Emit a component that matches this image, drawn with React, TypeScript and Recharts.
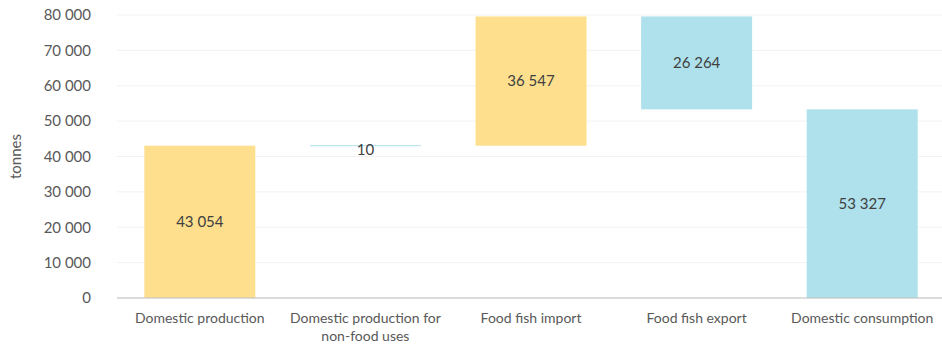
import { Bar, BarChart, CartesianGrid, Cell, LabelList, XAxis, YAxis } from "recharts";

const categories = [
  "Domestic production",
  "Domestic production for\nnon-food uses",
  "Food fish import",
  "Food fish export",
  "Domestic consumption",
];
const amounts = [43054, 10, 36547, 26264, 53327];
const bases = [0, 43044, 43044, 53327, 0];
const kinds = ["up", "down", "up", "down", "total"];
const yTicks = [0, 10000, 20000, 30000, 40000, 50000, 60000, 70000, 80000];

const YELLOW = "#FEDF8E";
const BLUE = "#AEE1EB";
const FONT = "Lato, 'Open Sans', sans-serif";

const fmt = (v: number) => String(v).replace(/\B(?=(\d{3})+(?!\d))/g, " ");

const data = categories.map((name, i) => ({
  name,
  base: bases[i],
  amount: amounts[i],
  color: kinds[i] === "up" ? YELLOW : BLUE,
}));

function BarShape(props: any) {
  const { x, y, width, height, fill } = props;
  if (height < 1) {
    return <rect x={x} y={y - 0.5} width={width} height={1} fill={fill} />;
  }
  return <rect x={x} y={y} width={width} height={height} fill={fill} />;
}

function CatTick(props: any) {
  const { x, y, payload } = props;
  const lines = String(payload.value).split("\n");
  return (
    <g transform={`translate(${x},${y})`}>
      {lines.map((l, i) => (
        <text key={i} x={0} y={17 + i * 18} textAnchor="middle" fill="#595959" fontSize={14} fontFamily={FONT}>
          {l}
        </text>
      ))}
    </g>
  );
}

function ValueLabel(props: any) {
  const { x, y, width, height, value } = props;
  const cy = height < 1 ? y + 4 : y + height / 2;
  return (
    <text x={x + width / 2} y={cy} dy={5} textAnchor="middle" fill="#404040" fontSize={15} fontFamily={FONT}>
      {fmt(value)}
    </text>
  );
}

export default function App() {
  return (
    <div style={{ position: "absolute", left: 0, top: 0, background: "#fff" }}>
      <BarChart
        width={942}
        height={345}
        data={data}
        margin={{ top: 15, right: -3, bottom: 0, left: 0 }}
        barCategoryGap="16.5%"
      >
        <CartesianGrid vertical={false} stroke="#F2F2F2" />
        <XAxis
          dataKey="name"
          height={47}
          tick={<CatTick />}
          tickLine={false}
          axisLine={{ stroke: "#BFBFBF" }}
          interval={0}
        />
        <YAxis
          width={117}
          domain={[0, 80000]}
          ticks={yTicks}
          tickFormatter={fmt}
          tickLine={false}
          axisLine={false}
          tickMargin={20}
          tick={{ fill: "#595959", fontSize: 15, fontFamily: FONT }}
          label={{
            value: "tonnes",
            angle: -90,
            position: "insideLeft",
            offset: 16,
            style: { fill: "#595959", fontSize: 15, fontFamily: FONT, textAnchor: "middle" },
          }}
        />
        <Bar dataKey="base" stackId="w" fill="transparent" isAnimationActive={false} />
        <Bar dataKey="amount" stackId="w" shape={<BarShape />} isAnimationActive={false}>
          {data.map((d) => (
            <Cell key={d.name} fill={d.color} />
          ))}
          <LabelList dataKey="amount" content={<ValueLabel />} />
        </Bar>
      </BarChart>
    </div>
  );
}
